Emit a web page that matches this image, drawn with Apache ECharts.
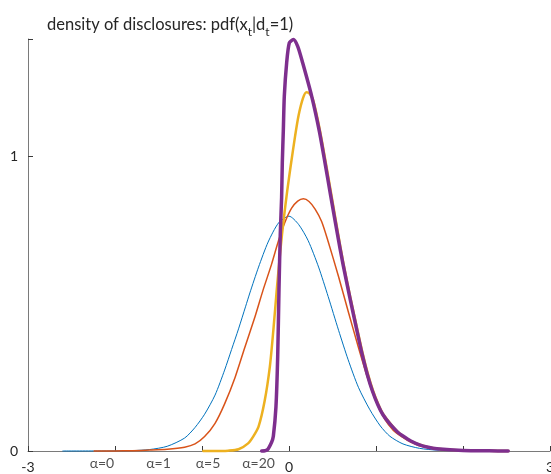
<!DOCTYPE html>
<html>
<head>
<meta charset="utf-8">
<script src="https://cdn.jsdelivr.net/npm/echarts@6/dist/echarts.min.js"></script>
<style>
  html, body { margin: 0; padding: 0; background: #ffffff; }
  #chart { width: 551px; height: 474px; }
</style>
</head>
<body>
<div id="chart"></div>
<script>
// Axis ticks and labels
const xTicks = [-3, -2, -1, 0, 1, 2, 3];
const xTickLabels = [-3, 0, 3];
const yTicks = [0, 1, 1.4];
const yTickLabels = [0, 1];

// Curve names shown under the x axis, and where each one sits
const alphaNames = ['α=0', 'α=1', 'α=5', 'α=20'];
const alphaLabelX = [-2.15, -1.5, -0.93, -0.35];

// alpha = 0
const xA0 = [-2.6, -2.2, -2.0, -1.8, -1.6, -1.4, -1.2, -1.08, -0.97, -0.85, -0.74, -0.66, -0.58, -0.5, -0.45, -0.35, -0.24, -0.12, 0, 0.11, 0.22, 0.34, 0.45, 0.57, 0.68, 0.8, 0.93, 1.05, 1.16, 1.31, 1.5, 1.7, 2.0, 2.3, 2.52];
const yA0 = [0, 0.0002, 0.0005, 0.0013, 0.005, 0.016, 0.044, 0.08, 0.125, 0.19, 0.275, 0.345, 0.415, 0.49, 0.537, 0.625, 0.71, 0.775, 0.798, 0.77, 0.715, 0.625, 0.525, 0.41, 0.31, 0.215, 0.14, 0.085, 0.05, 0.024, 0.009, 0.003, 0.0005, 0.0001, 0];

// alpha = 1
const xA1 = [-2.24, -2.0, -1.8, -1.6, -1.4, -1.2, -1.08, -0.97, -0.85, -0.74, -0.62, -0.51, -0.39, -0.3, -0.2, -0.12, -0.05, 0.03, 0.1, 0.165, 0.23, 0.3, 0.375, 0.45, 0.57, 0.68, 0.8, 0.91, 1.0, 1.1, 1.2, 1.3, 1.4, 1.5, 1.7, 2.0, 2.3, 2.52];
const yA1 = [0, 0.0003, 0.001, 0.003, 0.006, 0.013, 0.024, 0.049, 0.094, 0.16, 0.25, 0.35, 0.457, 0.545, 0.635, 0.715, 0.775, 0.825, 0.849, 0.857, 0.848, 0.822, 0.78, 0.712, 0.592, 0.475, 0.35, 0.242, 0.168, 0.108, 0.07, 0.048, 0.03, 0.018, 0.007, 0.002, 0.0005, 0];

// alpha = 5
const xA5 = [-0.985, -0.8, -0.7, -0.58, -0.47, -0.41, -0.35, -0.28, -0.22, -0.18, -0.14, -0.1, -0.06, -0.02, 0.02, 0.07, 0.11, 0.16, 0.2, 0.24, 0.28, 0.35, 0.42, 0.49, 0.56, 0.625, 0.705, 0.785, 0.845, 0.905, 0.965, 1.025, 1.085, 1.165, 1.25, 1.4, 1.6, 1.8, 2.0, 2.3, 2.52];
const yA5 = [0, 0.0002, 0.001, 0.006, 0.026, 0.05, 0.083, 0.17, 0.287, 0.41, 0.55, 0.68, 0.79, 0.885, 0.97, 1.07, 1.14, 1.198, 1.219, 1.213, 1.19, 1.098, 0.985, 0.866, 0.745, 0.638, 0.522, 0.414, 0.334, 0.264, 0.206, 0.16, 0.124, 0.093, 0.065, 0.034, 0.013, 0.005, 0.002, 0.0005, 0];

// alpha = 20
const xA20 = [-0.314, -0.25, -0.2, -0.18, -0.15, -0.13, -0.115, -0.1, -0.085, -0.077, -0.065, -0.054, -0.027, 0.004, 0.05, 0.1, 0.157, 0.261, 0.349, 0.414, 0.48, 0.556, 0.62, 0.70, 0.78, 0.84, 0.9, 0.96, 1.02, 1.08, 1.16, 1.25, 1.31, 1.4, 1.5, 1.6, 1.7, 2.0, 2.3, 2.52];
const yA20 = [0, 0.004, 0.03, 0.05, 0.15, 0.32, 0.55, 0.74, 0.86, 0.979, 1.092, 1.205, 1.319, 1.387, 1.398, 1.375, 1.319, 1.205, 1.086, 0.979, 0.866, 0.738, 0.636, 0.52, 0.41, 0.33, 0.26, 0.203, 0.158, 0.123, 0.092, 0.064, 0.051, 0.034, 0.021, 0.013, 0.008, 0.002, 0.0005, 0];

const pairs = (xs, ys) => xs.map((x, i) => [x, ys[i]]);

const FONT = 'Lato, "Open Sans", sans-serif';
const TEXT = '#262626';
const AXIS = '#7a7a7a';

function curve(name, xs, ys, color, width) {
  return {
    name: name,
    type: 'line',
    data: pairs(xs, ys),
    showSymbol: false,
    smooth: 0.25,
    clip: false,
    lineStyle: { color: color, width: width, cap: 'round', join: 'round' },
    emphasis: { disabled: true },
    silent: true
  };
}

const chart = echarts.init(document.getElementById('chart'), null, { renderer: 'canvas' });

chart.setOption({
  animation: false,
  backgroundColor: '#ffffff',
  title: {
    text: '{a|density of disclosures: pdf(x}{s|t}{a||d}{s|t}{a|=1)}',
    left: 47,
    top: 13,
    padding: 0,
    textStyle: {
      fontWeight: 'normal',
      rich: {
        a: { fontFamily: FONT, fontSize: 16.5, fontWeight: 'normal', color: TEXT, verticalAlign: 'bottom', lineHeight: 20 },
        s: { fontFamily: FONT, fontSize: 12, fontWeight: 'normal', color: TEXT, verticalAlign: 'bottom', lineHeight: 12, padding: [0, 0, -5, 0] }
      }
    }
  },
  grid: {
    left: 28, right: 1, top: 39, bottom: 23,
    containLabel: false,
    outerBoundsMode: 'none'
  },
  xAxis: {
    type: 'value',
    min: -3, max: 3, interval: 1,
    splitLine: { show: false },
    axisLine: { show: true, onZero: false, lineStyle: { color: AXIS, width: 1 } },
    axisTick: { show: true, inside: true, length: 5, customValues: xTicks, lineStyle: { color: '#3a3a3a', width: 1 } },
    axisLabel: {
      show: true, customValues: xTickLabels, margin: 9,
      fontFamily: FONT, fontSize: 14, color: TEXT,
      formatter: v => String(v)
    }
  },
  yAxis: {
    type: 'value',
    min: 0, max: 1.4,
    splitLine: { show: false },
    axisLine: { show: true, onZero: false, lineStyle: { color: AXIS, width: 1 } },
    axisTick: { show: true, inside: true, length: 5, customValues: yTicks, lineStyle: { color: '#3a3a3a', width: 1 } },
    axisLabel: {
      show: true, customValues: yTickLabels, margin: 10,
      fontFamily: FONT, fontSize: 14, color: TEXT,
      formatter: v => String(v)
    }
  },
  series: [
    curve('α=0', xA0, yA0, '#0072BD', 1),
    curve('α=1', xA1, yA1, '#D95319', 1.5),
    curve('α=5', xA5, yA5, '#EDB120', 2.5),
    curve('α=20', xA20, yA20, '#7E2F8E', 3.5),
    {
      name: 'names',
      type: 'scatter',
      data: alphaLabelX.map((x, i) => ({ value: [x, 0], name: alphaNames[i] })),
      symbolSize: 0,
      clip: false,
      silent: true,
      z: 5,
      label: {
        show: true,
        position: 'bottom',
        distance: 5,
        formatter: p => p.name,
        fontFamily: FONT, fontSize: 14, color: TEXT
      }
    }
  ]
});
</script>
</body>
</html>
